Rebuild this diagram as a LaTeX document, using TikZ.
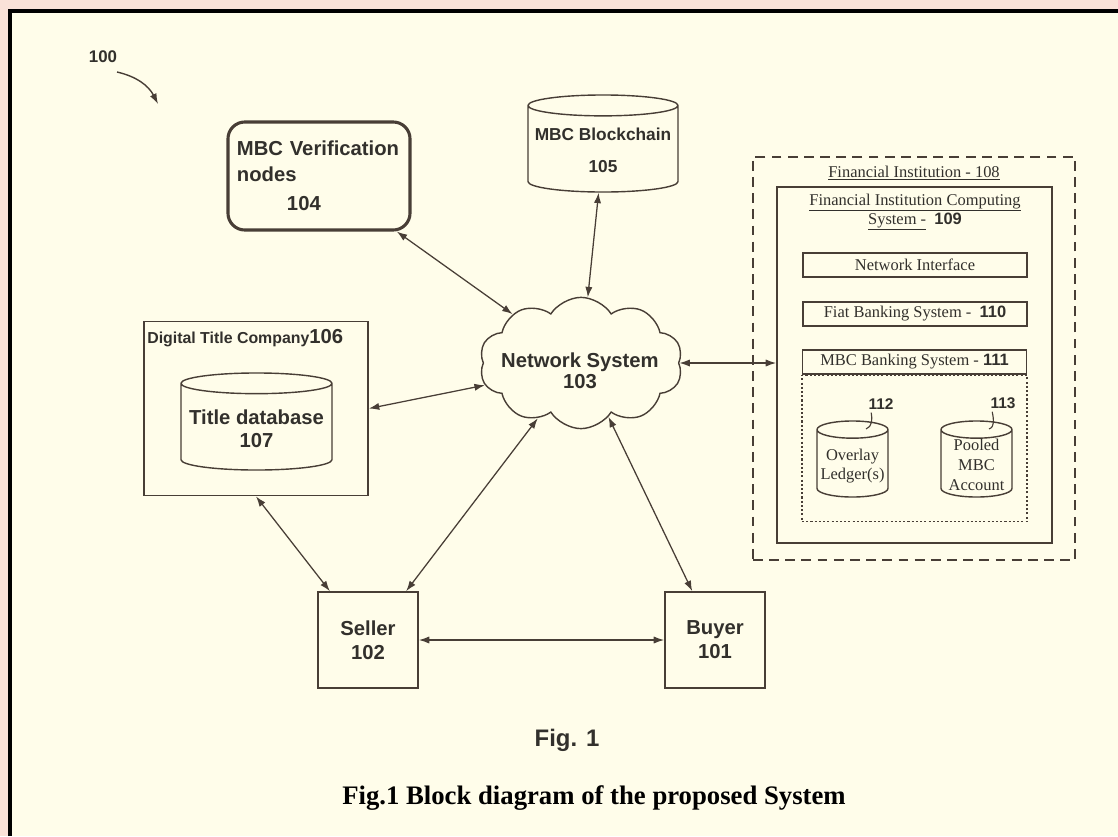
\documentclass[tikz,border=0pt]{standalone}
\usepackage{fontspec}
\setmainfont{Liberation Serif}
\setsansfont{Liberation Sans}
\usetikzlibrary{shapes.geometric,shapes.symbols,arrows.meta}
\definecolor{pinkbg}{RGB}{250,226,216}
\definecolor{creambg}{RGB}{255,253,234}
\definecolor{inkline}{RGB}{72,62,54}
\definecolor{inktext}{RGB}{50,48,44}
\newcommand{\bnum}[1]{{\sffamily\bfseries #1}}

\begin{document}
\begin{tikzpicture}[x=0.025cm,y=-0.025cm,
  >={Latex[length=2.6mm,width=1.8mm]},
  lbl/.style={font=\sffamily\bfseries\fontsize{14.4}{17}\selectfont,text=inktext,align=center},
  serif/.style={font=\rmfamily\fontsize{11.7}{14}\selectfont,text=inktext,align=center},
  box/.style={draw=inkline,line width=1.2pt},
  subbox/.style={box,line width=1pt,minimum width=5.6cm,minimum height=0.6cm,inner sep=0pt,serif},
  dbcyl/.style={cylinder,shape border rotate=90,draw=inkline,line width=1pt,inner sep=1pt,anchor=shape center},
  link/.style={<->,draw=inkline,line width=0.9pt}]
\useasboundingbox (0,0) rectangle (1118,836);
\fill[pinkbg] (0,0) rectangle (1118,836);
\fill[creambg] (10,11) rectangle (1118,836);
\draw[line width=3pt,black] (10,836) -- (10,11) -- (1118,11);

\node[font=\sffamily\bfseries\fontsize{12}{14}\selectfont,text=inktext] (l100) at (103,57) {100};
\coordinate (p100) at (158,104);
\draw[->,inkline,line width=1pt] ([shift={(14,15)}]l100.center) to[bend left=25] (p100);

\node[box,line width=2.2pt,rounded corners=12pt,minimum width=4.55cm,minimum height=2.7cm,lbl,font=\sffamily\bfseries\fontsize{14.4}{18.5}\selectfont,align=left,text width=4.1cm] (verif) at (319,176) {MBC Verification\\nodes\\[2pt]\hspace*{1.25cm}104};

\node[dbcyl,minimum width=3.75cm,minimum height=2.425cm,aspect=0.15] (chain) at (603,143.5) {\rule{97pt}{0pt}};
\node[lbl,font=\sffamily\bfseries\fontsize{12.3}{15}\selectfont] (chainlbl) at (603,150) {MBC Blockchain\\[8pt]105};

\node[cloud,cloud puffs=10,cloud puff arc=115,aspect=1.55,draw=inkline,line width=1pt,minimum width=5.08cm,minimum height=3.28cm] (net) at (581,363) {};
\node[lbl] (netlbl) at (580,371) {Network System\\[-2pt]103};

\node[box,minimum width=5.6cm,minimum height=4.35cm] (tco) at (256,408.5) {};
\node[anchor=base west,inner sep=0pt,font=\sffamily\bfseries\fontsize{11.3}{13}\selectfont,text=inktext] (tcolbl) at (147,343) {Digital Title Company{\fontsize{14.4}{14}\selectfont 106}};
\node[dbcyl,minimum width=3.775cm,minimum height=2.425cm,aspect=0.15] (tdb) at (256.5,421.5) {\rule{96pt}{0pt}};
\node[lbl] (tdblbl) at (256.5,429) {Title database\\[-1pt]107};

\node[box,minimum width=2.5cm,minimum height=2.4cm,lbl] (seller) at (368,640) {Seller\\102};
\node[box,minimum width=2.5cm,minimum height=2.4cm,lbl] (buyer) at (715,640) {Buyer\\101};

\node[draw=inkline,dash pattern=on 7pt off 4.5pt,line width=1.2pt,minimum width=8.05cm,minimum height=10.075cm] (fin) at (914,358.5) {};
\node[serif] (finlbl) at (914,173) {\underline{Financial Institution - 108}};
\node[box,minimum width=6.875cm,minimum height=8.9cm] (ficomp) at (914.5,365) {};
\node[serif,font=\rmfamily\fontsize{11.7}{13.5}\selectfont] (ficomplbl) at (915,212) {\underline{Financial Institution Computing}\\\underline{System -}\ \ \bnum{109}};
\node[subbox] (netif) at (915,265) {Network Interface};
\node[subbox] (fiat) at (915,314) {Fiat Banking System - \ \bnum{110}};
\node[subbox] (mbcbank) at (914.5,362) {MBC Banking System - \bnum{111}};
\node[draw=inkline,dash pattern=on 1.5pt off 1.5pt,line width=1pt,minimum width=5.625cm,minimum height=3.65cm,anchor=north] (mbcarea) at (mbcbank.south) {};

\node[dbcyl,minimum width=1.775cm,minimum height=1.9cm,aspect=0.26] (ledger) at (852.5,459) {\rule{45pt}{0pt}};
\node[serif] (ledgerlbl) at (852.5,466) {Overlay\\Ledger(s)};
\node[dbcyl,minimum width=1.775cm,minimum height=1.9cm,aspect=0.26] (pooled) at (976.5,459) {\rule{45pt}{0pt}};
\node[serif] (pooledlbl) at (976.5,465) {Pooled\\MBC\\Account};
\node[font=\sffamily\bfseries\fontsize{11}{13}\selectfont,text=inktext,inner sep=0pt] (l112) at (881,404) {112};
\node[font=\sffamily\bfseries\fontsize{11}{13}\selectfont,text=inktext,inner sep=0pt] (l113) at (1003,403) {113};
\coordinate (c112) at (866,429);
\coordinate (c113) at (989,429);
\draw[inkline,line width=0.8pt] ([shift={(3,3)}]l112.south west) to[out=-80,in=20] (c112);
\draw[inkline,line width=0.8pt] ([shift={(2,3)}]l113.south west) to[out=-80,in=20] (c113);

\draw[link] (verif) -- (net);
\draw[link] (chain) -- (net);
\draw[link] (net.east) -- (net.east -| ficomp.west);
\draw[link] (tco.east) -- (net.193);
\draw[link] (tco.south) -- (seller.128);
\draw[link] (seller.52) -- (net.-128);
\draw[link] (buyer.115) -- (net.-63);
\draw[link] (seller.east) -- (buyer.west);

\node[font=\sffamily\bfseries\fontsize{17}{20}\selectfont,text=inktext] (fig) at (567,740) {Fig. 1};
\node[font=\rmfamily\bfseries\fontsize{19}{22}\selectfont] (caption) at (594,798) {Fig.1 Block diagram of the proposed System};
\end{tikzpicture}
\end{document}
